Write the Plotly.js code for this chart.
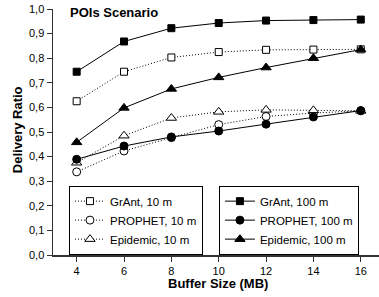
<!DOCTYPE html>
<html><head><meta charset="utf-8">
<script src="https://cdn.plot.ly/plotly-3.0.1.min.js"></script>
<style>body{margin:0;padding:0;background:#fff}#chart{width:379px;height:297px}</style>
</head><body><div id="chart"></div>
<script>
const bufferSizes = [4, 6, 8, 10, 12, 14, 16];
const grant10 = [0.625, 0.745, 0.803, 0.825, 0.834, 0.835, 0.836];
const prophet10 = [0.338, 0.423, 0.477, 0.530, 0.563, 0.577, 0.586];
const epidemic10 = [0.375, 0.485, 0.557, 0.582, 0.590, 0.588, 0.586];
const grant100 = [0.745, 0.868, 0.922, 0.943, 0.953, 0.955, 0.957];
const prophet100 = [0.389, 0.443, 0.480, 0.504, 0.532, 0.561, 0.587];
const epidemic100 = [0.458, 0.598, 0.675, 0.722, 0.762, 0.800, 0.835];
const xTicks = [4, 6, 8, 10, 12, 14, 16];
const yTicks = [0, 0.1, 0.2, 0.3, 0.4, 0.5, 0.6, 0.7, 0.8, 0.9, 1.0];

const FONT = 'Arial, "Liberation Sans", sans-serif';
function tr(name, y, sym, open, legend, msize) {
  return {
    x: bufferSizes, y: y, name: name, type: 'scatter', mode: 'lines+markers',
    legend: legend,
    line: {color: '#000', width: 1, dash: open ? '1px,2px' : 'solid'},
    marker: {symbol: sym, size: msize, color: open ? '#fff' : '#000',
             line: {color: '#000', width: 1}}
  };
}
const data = [
  tr('GrAnt, 10 m', grant10, 'square', true, 'legend', 7),
  tr('PROPHET, 10 m', prophet10, 'circle', true, 'legend', 8),
  tr('Epidemic, 10 m', epidemic10, 'triangle-up', true, 'legend', 9),
  tr('GrAnt, 100 m', grant100, 'square', false, 'legend2', 7),
  tr('PROPHET, 100 m', prophet100, 'circle', false, 'legend2', 8),
  tr('Epidemic, 100 m', epidemic100, 'triangle-up', false, 'legend2', 9)
];
const legendStyle = {
  bgcolor: '#fff', bordercolor: '#000', borderwidth: 1,
  font: {family: FONT, size: 11.5, color: '#000'},
  xanchor: 'left', yanchor: 'top', tracegroupgap: 0
};
const layout = {
  width: 379, height: 297,
  margin: {l: 53, r: 0, t: 9, b: 42, pad: 0},
  paper_bgcolor: '#fff', plot_bgcolor: '#fff',
  separators: ', ',
  font: {family: FONT, color: '#000'},
  showlegend: true,
  legend: Object.assign({x: 0.049, y: 0.282}, legendStyle),
  legend2: Object.assign({x: 0.509, y: 0.282}, legendStyle),
  xaxis: {
    range: [3, 16.77], tickvals: xTicks, ticktext: xTicks.map(String),
    showgrid: false, zeroline: false, showline: true, linecolor: '#333', linewidth: 1.5,
    ticks: 'outside', ticklen: 5, tickcolor: '#333', tickfont: {family: FONT, size: 11}
  },
  yaxis: {
    range: [0, 1], tickvals: yTicks, tickformat: '.1f',
    showgrid: false, zeroline: false, showline: true, linecolor: '#333', linewidth: 1.5,
    ticks: 'outside', ticklen: 5, tickcolor: '#333', tickfont: {family: FONT, size: 11}
  },
  annotations: [
    {text: '<b>POIs Scenario</b>', xref: 'paper', yref: 'paper', x: 0.046, y: 0.984,
     xanchor: 'left', yanchor: 'middle', showarrow: false, font: {family: FONT, size: 13}},
    {text: '<b>Buffer Size (MB)</b>', xref: 'paper', yref: 'paper', x: 0.506, y: -0.114,
     xanchor: 'center', yanchor: 'middle', showarrow: false, font: {family: FONT, size: 13}},
    {text: '<b>Delivery Ratio</b>', xref: 'paper', yref: 'paper', x: -0.110, y: 0.508,
     xanchor: 'center', yanchor: 'middle', textangle: -90, showarrow: false, font: {family: FONT, size: 13}}
  ]
};
Plotly.newPlot('chart', data, layout, {displayModeBar: false, staticPlot: true});
</script></body></html>
